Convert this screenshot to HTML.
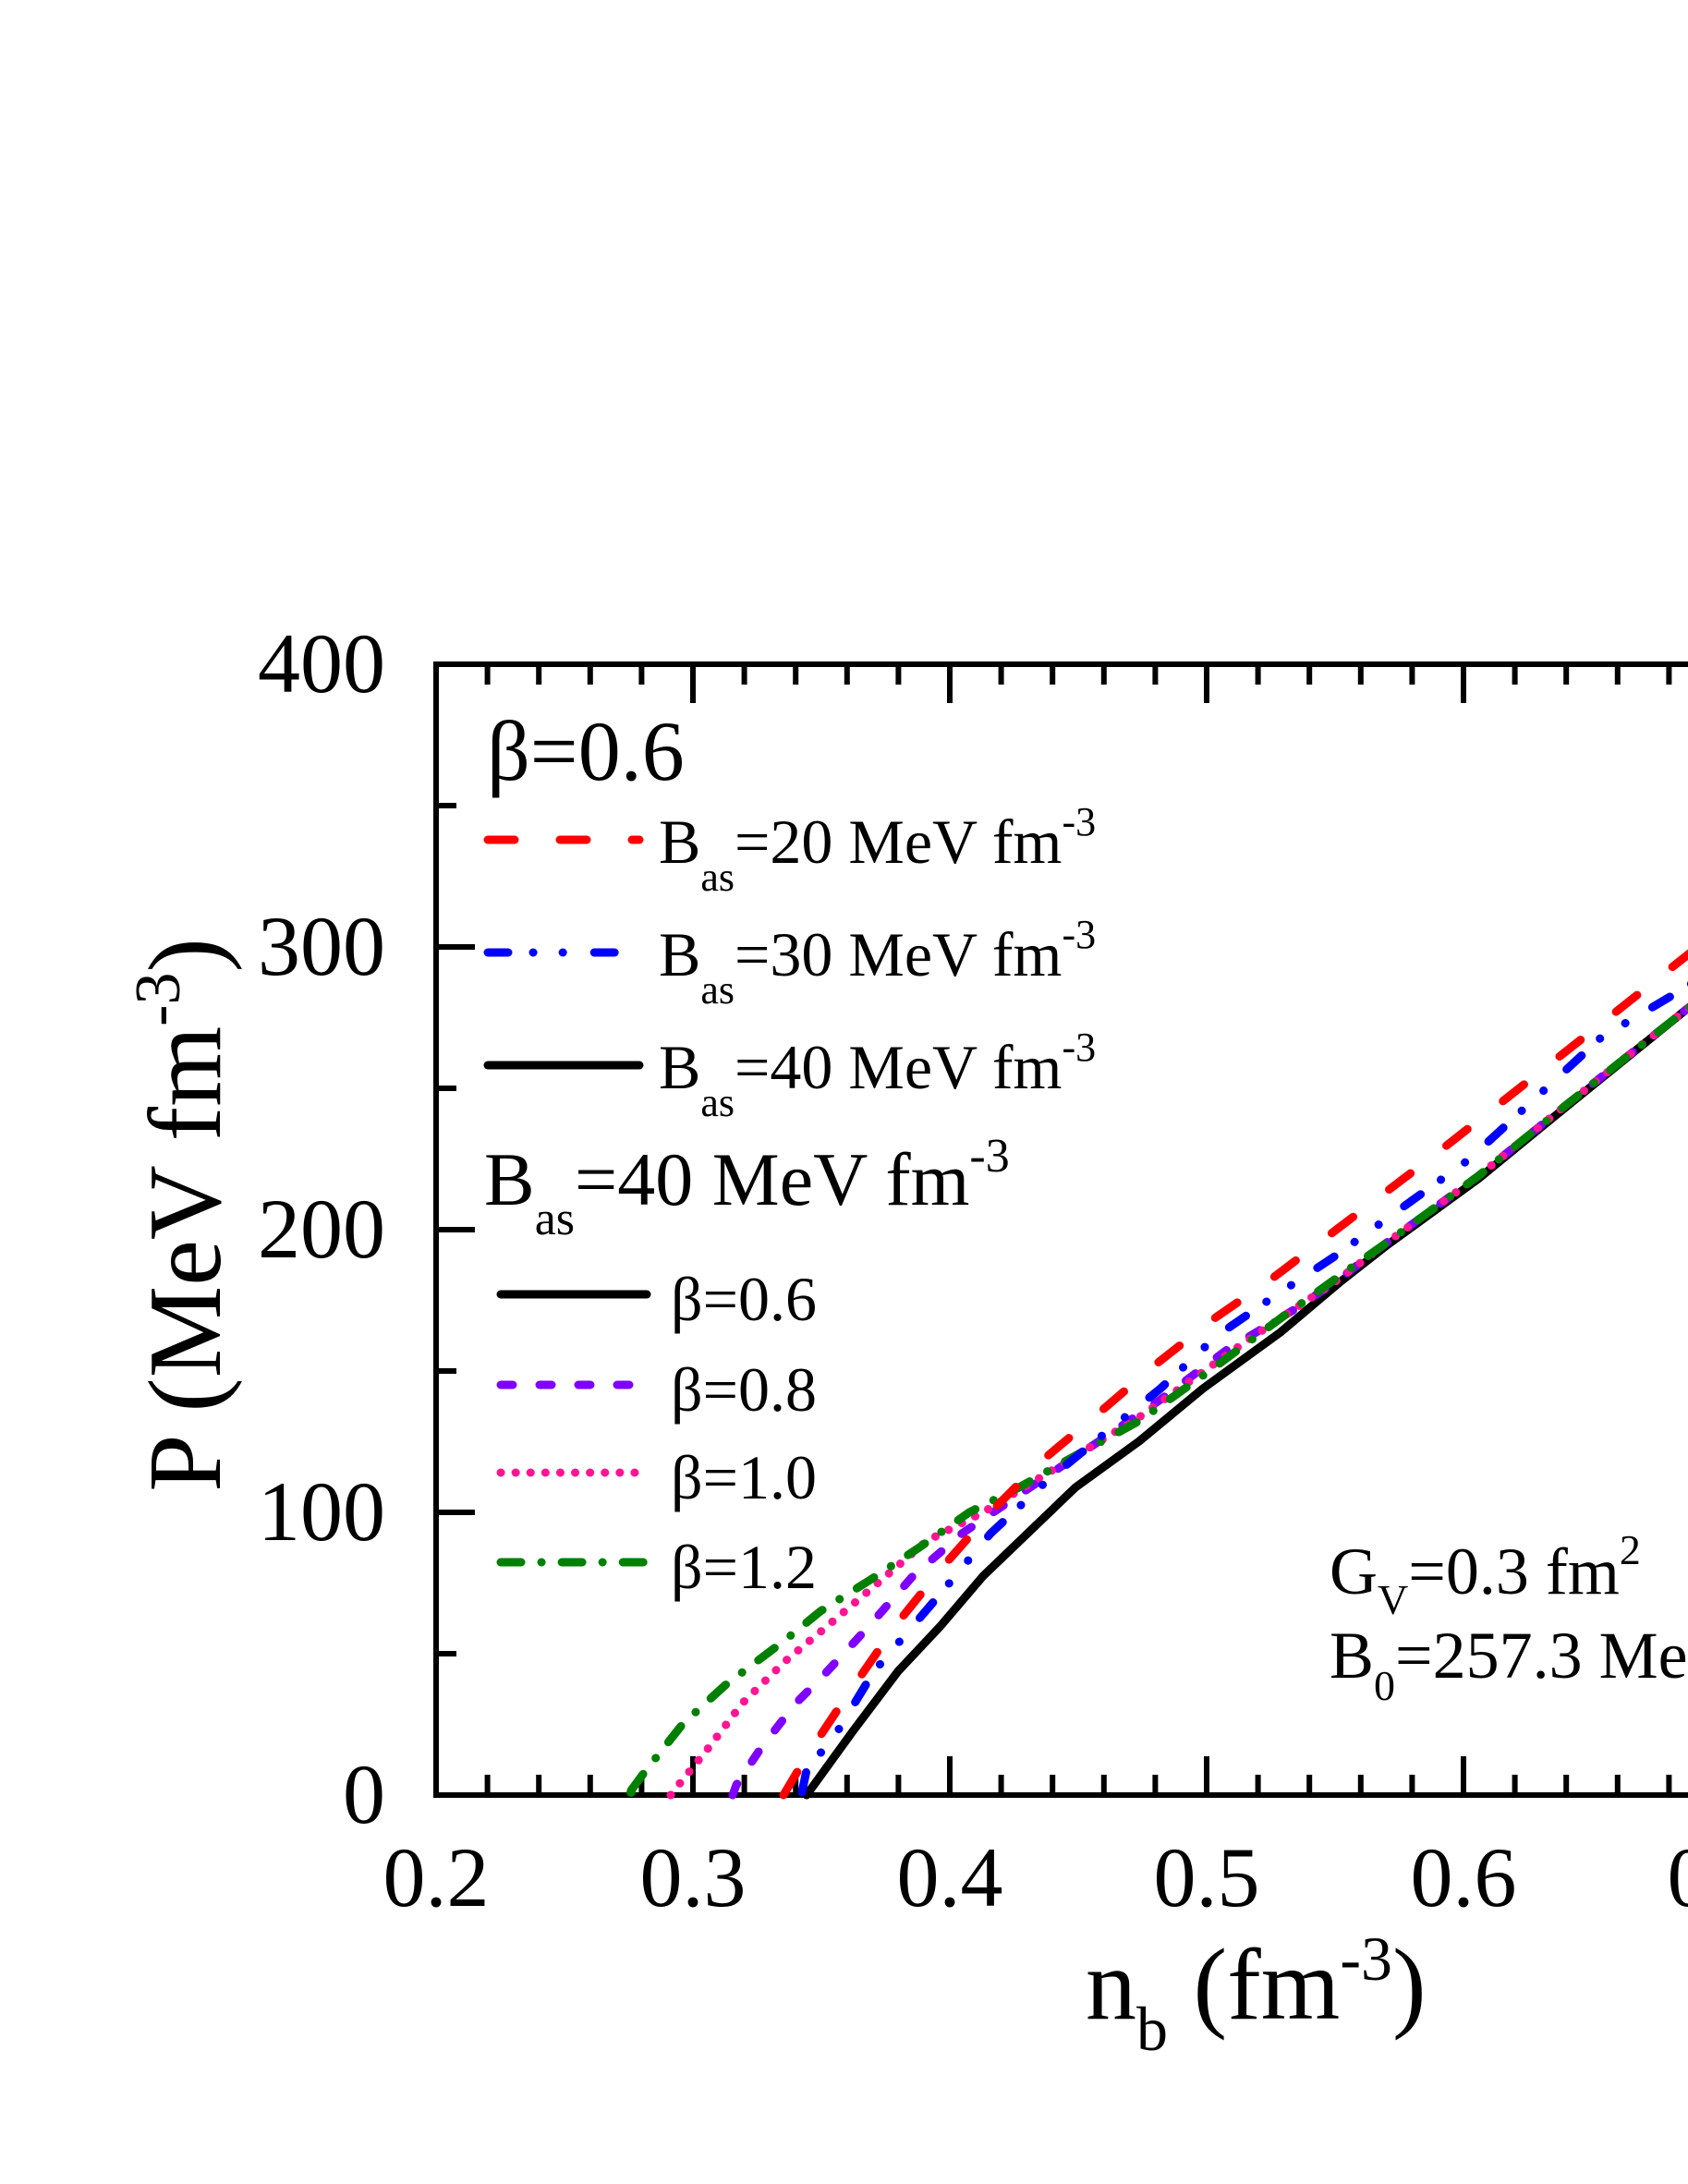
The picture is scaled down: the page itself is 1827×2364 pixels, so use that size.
<!DOCTYPE html>
<html><head><meta charset="utf-8"><style>html,body{margin:0;padding:0;background:#fff;}svg{display:block}</style></head>
<body>
<svg width="1827" height="2364" viewBox="0 0 1827 2364" xmlns="http://www.w3.org/2000/svg" font-family="Liberation Serif, serif">
<rect width="1827" height="2364" fill="#fff"/>
<g stroke="#000" stroke-width="6" fill="none">
<path d="M472,719 H1900 M472,716 V1946 M469,1943 H1900"/>
<path d="M527.6,1943v-22 M583.2,1943v-22 M638.8,1943v-22 M694.4,1943v-22 M750,1943v-42 M805.6,1943v-22 M861.2,1943v-22 M916.8,1943v-22 M972.4,1943v-22 M1028,1943v-42 M1083.6,1943v-22 M1139.2,1943v-22 M1194.8,1943v-22 M1250.4,1943v-22 M1306,1943v-42 M1361.6,1943v-22 M1417.2,1943v-22 M1472.8,1943v-22 M1528.4,1943v-22 M1584,1943v-42 M1639.6,1943v-22 M1695.2,1943v-22 M1750.8,1943v-22 M1806.4,1943v-22"/>
<path d="M527.6,719v22 M583.2,719v22 M638.8,719v22 M694.4,719v22 M750,719v42 M805.6,719v22 M861.2,719v22 M916.8,719v22 M972.4,719v22 M1028,719v42 M1083.6,719v22 M1139.2,719v22 M1194.8,719v22 M1250.4,719v22 M1306,719v42 M1361.6,719v22 M1417.2,719v22 M1472.8,719v22 M1528.4,719v22 M1584,719v42 M1639.6,719v22 M1695.2,719v22 M1750.8,719v22 M1806.4,719v22"/>
<path d="M472,1790h22 M472,1637h42 M472,1484h22 M472,1331h42 M472,1178h22 M472,1025h42 M472,872h22"/>
</g>
<g font-size="92" fill="#000" text-anchor="end">
<text x="417" y="1973">0</text><text x="417" y="1667">100</text><text x="417" y="1361">200</text><text x="417" y="1055">300</text><text x="417" y="749">400</text>
</g>
<g font-size="92" fill="#000" text-anchor="middle">
<text x="472" y="2063">0.2</text><text x="750" y="2063">0.3</text><text x="1028" y="2063">0.4</text><text x="1306" y="2063">0.5</text><text x="1584" y="2063">0.6</text><text x="1862" y="2063">0.7</text>
</g>
<text transform="translate(238,1315) rotate(-90)" text-anchor="middle" font-size="112" fill="#000">P (MeV fm<tspan font-size="70" dy="-44">-3</tspan><tspan dy="44">)</tspan></text>
<text x="1175" y="2185" font-size="110" fill="#000">n<tspan font-size="68" dy="34">b</tspan><tspan dy="-34"> (fm</tspan><tspan font-size="68" dy="-42">-3</tspan><tspan dy="42">)</tspan></text>

<g fill="none" stroke-width="9" stroke-linecap="round" stroke-linejoin="round">
<polyline stroke="#000" points="873,1943 923,1874 972,1809 1018,1760 1064,1706 1164,1610 1233,1560 1302,1503 1386,1442 1450,1388 1501,1348 1600,1276 1694,1199 1826,1092 1862,1065"/>
<polyline stroke="#7f00ff" stroke-dasharray="13 29" points="793,1943 797,1932 823,1893 861,1844 888,1817 938,1763 988,1706 1041,1660 1103,1618 1194,1557 1256,1515 1328,1461 1405,1415 1450,1384 1501,1345 1600,1273 1694,1197 1826,1092 1862,1065"/>
<polyline stroke="#ff1493" stroke-dasharray="0.1 16" points="726,1943 728,1940 766,1893 804,1843 850,1798 892,1763 946,1717 1003,1668 1064,1637 1133,1595 1233,1534 1347,1453 1450,1384 1501,1345 1600,1273 1694,1197 1826,1092 1862,1065"/>
<polyline stroke="#008000" stroke-dasharray="22 22 0.1 22" points="683,1938 697,1919 739,1866 785,1824 850,1775 888,1744 942,1710 995,1675 1049,1637 1103,1610 1156,1580 1233,1538 1309,1484 1386,1427 1450,1381 1501,1345 1600,1273 1694,1197 1826,1092 1862,1065"/>
<polyline stroke="#0000ff" stroke-dasharray="22 27 0.1 32 0.1 34" points="868,1940 873,1916 904,1878 946,1809 1018,1725 1072,1660 1133,1603 1194,1553 1256,1503 1317,1446 1378,1404 1443,1361 1590,1255 1733,1123 1826,1068 1862,1043"/>
<polyline stroke="#ff0000" stroke-dasharray="29 49" points="848,1943 873,1901 919,1832 972,1756 1022,1694 1076,1633 1129,1580 1191,1528 1252,1476 1313,1428 1378,1383 1553,1250 1733,1108 1826,1034 1862,1007"/>
</g>
<circle cx="683" cy="1940" r="5" fill="#008000"/>

<text x="527" y="844" font-size="92" fill="#000">β=0.6</text>
<g stroke-width="9" stroke-linecap="round" fill="none">
<line x1="528" y1="909" x2="692" y2="909" stroke="#ff0000" stroke-dasharray="29 49"/>
<line x1="528" y1="1031" x2="692" y2="1031" stroke="#0000ff" stroke-dasharray="22 27 0.1 32 0.1 34"/>
<line x1="528" y1="1153" x2="692" y2="1153" stroke="#000"/>
<line x1="542" y1="1401" x2="700" y2="1401" stroke="#000"/>
<line x1="542" y1="1499" x2="700" y2="1499" stroke="#7f00ff" stroke-dasharray="13 29"/>
<line x1="542" y1="1594" x2="700" y2="1594" stroke="#ff1493" stroke-dasharray="0.1 16"/>
<line x1="542" y1="1691" x2="700" y2="1691" stroke="#008000" stroke-dasharray="22 22 0.1 22"/>
</g>
<g font-size="68" fill="#000">
<text x="713" y="934">B<tspan font-size="44" dy="30">as</tspan><tspan dy="-30">=20 MeV fm</tspan><tspan font-size="44" dy="-30">-3</tspan></text>
<text x="713" y="1056">B<tspan font-size="44" dy="30">as</tspan><tspan dy="-30">=30 MeV fm</tspan><tspan font-size="44" dy="-30">-3</tspan></text>
<text x="713" y="1178">B<tspan font-size="44" dy="30">as</tspan><tspan dy="-30">=40 MeV fm</tspan><tspan font-size="44" dy="-30">-3</tspan></text>
<text x="726" y="1429">β=0.6</text>
<text x="726" y="1527">β=0.8</text>
<text x="726" y="1622">β=1.0</text>
<text x="726" y="1719">β=1.2</text>
</g>
<g font-size="72" fill="#000">
<text x="1439" y="1725">G<tspan font-size="46" dy="22">V</tspan><tspan dy="-22">=0.3 fm</tspan><tspan font-size="46" dy="-32">2</tspan></text>
<text x="1439" y="1816">B<tspan font-size="46" dy="24">0</tspan><tspan dy="-24">=257.3 MeV fm</tspan></text>
</g>
<text x="524" y="1304" font-size="82" fill="#000">B<tspan font-size="52" dy="32">as</tspan><tspan dy="-32">=40 MeV fm</tspan><tspan font-size="52" dy="-36">-3</tspan></text>
</svg>
</body></html>
